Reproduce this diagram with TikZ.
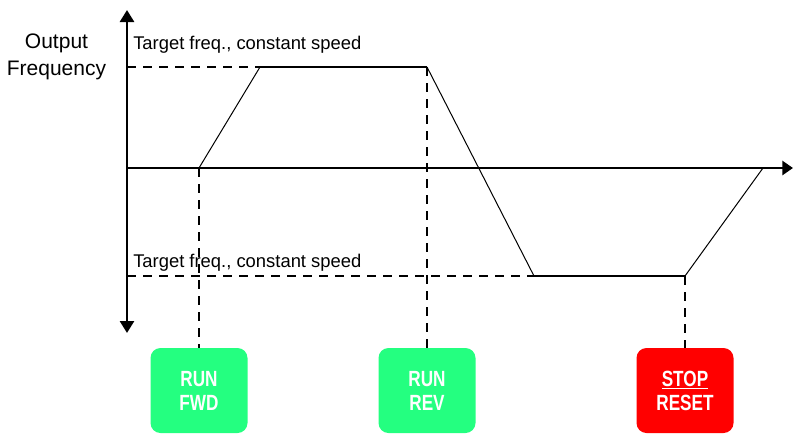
\documentclass[tikz,border=0pt]{standalone}
\usepackage{fontspec}
\setmainfont{Liberation Sans}
\newfontfamily\btnfont[FakeStretch=0.78]{Liberation Sans}
\usetikzlibrary{arrows.meta}
\definecolor{runGreen}{RGB}{36,255,128}
\definecolor{stopRed}{RGB}{255,0,0}
\tikzset{
  axisline/.style={line width=2pt},
  flatline/.style={line width=1.5pt},
  rampline/.style={line width=0.75pt},
  guideline/.style={line width=1.5pt,dash pattern=on 7pt off 5pt},
  keybox/.style={rounded corners=7.5pt,minimum width=72.75pt,minimum height=63.75pt,
    inner sep=0pt,align=center,text=white,font=\btnfont\bfseries\fontsize{16.5}{18}\selectfont},
  freqlabel/.style={anchor=base west,inner sep=0pt,font=\fontsize{13.8}{16}\selectfont}
}
\begin{document}
\begin{tikzpicture}[x=0.75pt,y=0.75pt,yscale=-1,xscale=1]
\useasboundingbox (0,0) rectangle (793,433);

% Points
\coordinate (origin) at (127,168);
\coordinate (ytop) at (127,10);
\coordinate (ybot) at (127,333);
\coordinate (xend) at (793,168);
\coordinate (hi) at (127,67);
\coordinate (lo) at (127,276);
\coordinate (p0) at (199,168);
\coordinate (p1) at (260,67);
\coordinate (p2) at (427,67);
\coordinate (p3) at (534,276);
\coordinate (p4) at (685,276);
\coordinate (p5) at (763,168);

%Shape: Rounded Rect
\node[keybox,fill=runGreen] (fwd) at (199,390.5) {RUN\\FWD};
%Shape: Rounded Rect
\node[keybox,fill=runGreen] (rev) at (427,390.5) {RUN\\REV};
%Shape: Rounded Rect
\node[keybox,fill=stopRed] (stop) at (685,390.5) {\underline{STOP}\\RESET};

%Dashed Lines
\draw[guideline] (hi) -- (p1);
\draw[guideline] (lo) -- (p3);
\draw[guideline] (p0) -- (fwd.north);
\draw[guideline] (p2) -- (rev.north);
\draw[guideline] (p4) -- (stop.north);

%Axes
\draw[axisline,{Triangle[length=9pt,width=10.5pt]}-{Triangle[length=9pt,width=10.5pt]}] (ybot) -- (ytop);
\draw[axisline,-{Triangle[length=8pt,width=10.5pt]}] (origin) -- (xend);

%Straight Lines
\draw[rampline] (p0) -- (p1);
\draw[flatline] (p1) -- (p2);
\draw[rampline] (p2) -- (p3);
\draw[flatline] (p3) -- (p4);
\draw[rampline] (p4) -- (p5);

% Text Node
\node[anchor=base,inner sep=0pt,font=\fontsize{15.75}{20}\selectfont] (outlbl) at (56.5,48) {Output};
% Text Node
\node[anchor=base,inner sep=0pt,font=\fontsize{15.75}{20}\selectfont] (freqlbl) at (56.5,75) {Frequency};
% Text Node
\node[freqlabel] (hilbl) at (133,49) {Target freq., constant speed};
% Text Node
\node[freqlabel] (lolbl) at (133,267) {Target freq., constant speed};

\end{tikzpicture}
\end{document}
